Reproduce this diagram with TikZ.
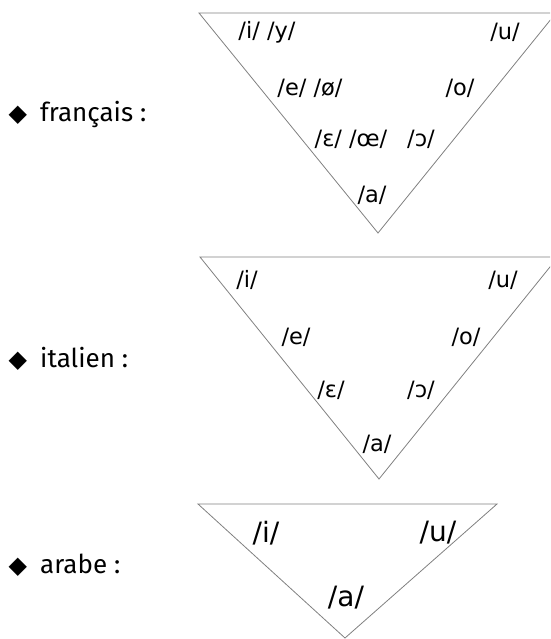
\documentclass[tikz,border=0pt]{standalone}
\usepackage{fontspec}
\setmainfont{Fira Sans}
\newfontfamily\api{DejaVu Sans}
\usetikzlibrary{positioning}
\newcommand\puce{\llap{{\api\fontsize{24}{24}\selectfont ◆}\hspace{13pt}}}

\begin{document}
\begin{tikzpicture}[x=1pt, y=-1pt,
    tri/.style={draw=gray, line width=0.8pt},
    voy/.style={inner sep=0pt, font=\api\fontsize{22.5}{22.5}\selectfont},
    voyg/.style={inner sep=0pt, font=\api\fontsize{28}{28}\selectfont},
    langue/.style={anchor=base west, inner sep=0pt, font=\fontsize{26}{26}\selectfont}]
  \clip (0,0) rectangle (550,639);

  % Français
  \node[langue] (fr) at (40,122) {\puce français :};
  \draw[tri] (199,13) -- (556,13) -- (378,233) -- cycle;
  \node[voy] (fr-iy) at (267,32) {/i/ /y/};
  \node[voy] (fr-u) at (505,32) {/u/};
  \node[voy] (fr-e) at (310,88) {/e/ /ø/};
  \node[voy] (fr-o) at (460,88) {/o/};
  \node[voy] (fr-E) at (351,139) {/ɛ/ /œ/};
  \node[voy] (fr-O) at (421,139) {/ɔ/};
  \node[voy] (fr-a) at (372,195) {/a/};

  % Italien
  \node[langue] (it) at (40,367) {\puce italien :};
  \draw[tri] (200,257) -- (558,257) -- (379,479) -- cycle;
  \node[voy] (it-i) at (247,280) {/i/};
  \node[voy] (it-u) at (503,280) {/u/};
  \node[voy] (it-e) at (296,337) {/e/};
  \node[voy] (it-o) at (466,337) {/o/};
  \node[voy] (it-E) at (331,390) {/ɛ/};
  \node[voy] (it-O) at (421,390) {/ɔ/};
  \node[voy] (it-a) at (377,444) {/a/};

  % Arabe
  \node[langue] (ar) at (40,573) {\puce arabe :};
  \draw[tri] (198,504) -- (497,504) -- (345,638) -- cycle;
  \node[voyg] (ar-i) at (266,533) {/i/};
  \node[voyg] (ar-u) at (438,533) {/u/};
  \node[voyg] (ar-a) at (346,598) {/a/};
\end{tikzpicture}
\end{document}
